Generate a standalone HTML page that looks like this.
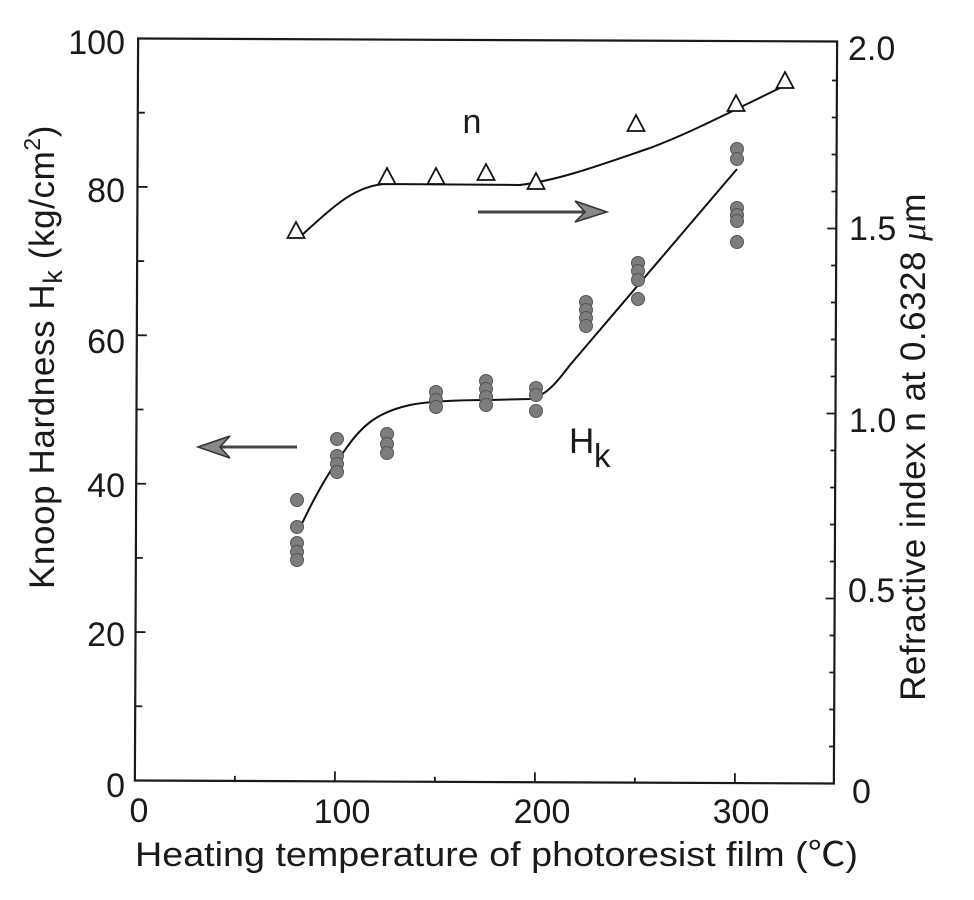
<!DOCTYPE html>
<html><head><meta charset="utf-8"><style>
html,body{margin:0;padding:0;background:#fff;}
svg{display:block;}
text{font-family:"Liberation Sans","Noto Sans CJK JP",sans-serif;fill:#1a1a1a;}
</style></head><body>
<svg width="974" height="900" viewBox="0 0 974 900" xmlns="http://www.w3.org/2000/svg">
<g transform="rotate(0.25 486 410)" stroke="#1a1a1a" fill="none">
  <rect x="136.5" y="40" width="699" height="742" stroke-width="2.2"/>
  <g stroke-width="1.8">
  <path d="M136.5,707.8h7 M136.5,633.6h10 M136.5,559.4h7 M136.5,485.2h10 M136.5,411h7 M136.5,336.8h10 M136.5,262.6h7 M136.5,188.4h10 M136.5,114.2h7"/>
  <path d="M835.5,745h-5 M835.5,708h-5 M835.5,671h-5 M835.5,634h-5 M835.5,597h-9 M835.5,560h-5 M835.5,523h-5 M835.5,486h-5 M835.5,449h-5 M835.5,412h-9 M835.5,375h-5 M835.5,338h-5 M835.5,301h-5 M835.5,264h-5 M835.5,227h-9 M835.5,190h-5 M835.5,153h-5 M835.5,116h-5 M835.5,79h-5"/>
  <path d="M236.5,782v-5 M336.5,782v-10 M436.5,782v-5 M536.5,782v-10 M636.5,782v-5 M736.5,782v-10"/>
  </g>
</g>

<path d="M299,530 C315,495 330,470 345,450 C362,425 378,412 410,405 C430,401 460,400 490,400 L530,399 C545,396 555,385 570,365 L737,169" stroke="#111" stroke-width="2" fill="none"/>
<path d="M302,235 C335,205 355,186 385,184 L520,185 C560,180 600,165 650,148 C690,133 730,112 782,87" stroke="#111" stroke-width="2" fill="none"/>

<g fill="#fff" stroke="#111" stroke-width="1.8" stroke-linejoin="miter">
  <path d="M287.5,238 L296,222 L304.5,238 Z"/>
  <path d="M378.5,184 L387,168 L395.5,184 Z"/>
  <path d="M427.5,184 L436,168 L444.5,184 Z"/>
  <path d="M477.5,180 L486,164 L494.5,180 Z"/>
  <path d="M527.5,189 L536,173 L544.5,189 Z"/>
  <path d="M627.5,131 L636,115 L644.5,131 Z"/>
  <path d="M727.5,111 L736,95 L744.5,111 Z"/>
  <path d="M776.5,88 L785,72 L793.5,88 Z"/>
</g>

<g fill="#7d7d7d" stroke="#555" stroke-width="1">
  <circle cx="297" cy="500" r="6.5"/><circle cx="297" cy="527" r="6.5"/><circle cx="297" cy="543" r="6.5"/><circle cx="297" cy="552" r="6.5"/><circle cx="297" cy="560" r="6.5"/>
  <circle cx="337" cy="439" r="6.5"/><circle cx="337" cy="456" r="6.5"/><circle cx="337" cy="464" r="6.5"/><circle cx="337" cy="472" r="6.5"/>
  <circle cx="387" cy="434" r="6.5"/><circle cx="387" cy="444" r="6.5"/><circle cx="387" cy="453" r="6.5"/>
  <circle cx="436" cy="392" r="6.5"/><circle cx="436" cy="400" r="6.5"/><circle cx="436" cy="407" r="6.5"/>
  <circle cx="486" cy="381" r="6.5"/><circle cx="486" cy="389" r="6.5"/><circle cx="486" cy="397" r="6.5"/><circle cx="486" cy="405" r="6.5"/>
  <circle cx="536" cy="388" r="6.5"/><circle cx="536" cy="395" r="6.5"/><circle cx="536" cy="411" r="6.5"/>
  <circle cx="586" cy="302" r="6.5"/><circle cx="586" cy="310" r="6.5"/><circle cx="586" cy="318" r="6.5"/><circle cx="586" cy="326" r="6.5"/>
  <circle cx="638" cy="263" r="6.5"/><circle cx="638" cy="271" r="6.5"/><circle cx="638" cy="280" r="6.5"/><circle cx="638" cy="299" r="6.5"/>
  <circle cx="737" cy="149" r="6.5"/><circle cx="737" cy="159" r="6.5"/><circle cx="737" cy="208" r="6.5"/><circle cx="737" cy="215" r="6.5"/><circle cx="737" cy="221" r="6.5"/><circle cx="737" cy="242" r="6.5"/>
</g>

<line x1="478" y1="212" x2="585" y2="212" stroke="#444" stroke-width="3"/>
<path d="M607,212 L575,201 L585,212 L575,222 Z" fill="#888" stroke="#333" stroke-width="1.5"/>
<line x1="220" y1="447" x2="297" y2="447" stroke="#444" stroke-width="3"/>
<path d="M198,447 L230,436 L220,447 L230,458 Z" fill="#888" stroke="#333" stroke-width="1.5"/>

<text x="472" y="133" font-size="34" text-anchor="middle">n</text>
<text x="569" y="453" font-size="35">H</text>
<text x="594" y="467" font-size="33">k</text>

<g font-size="34" text-anchor="end">
  <text x="125" y="54">100</text>
  <text x="125" y="202">80</text>
  <text x="125" y="353">60</text>
  <text x="125" y="497">40</text>
  <text x="125" y="646">20</text>
  <text x="125" y="797">0</text>
</g>
<g font-size="34" text-anchor="start">
  <text x="848" y="60">2.0</text>
  <text x="849" y="240">1.5</text>
  <text x="849" y="432">1.0</text>
  <text x="848" y="602">0.5</text>
  <text x="852" y="803">0</text>
</g>
<g font-size="34" text-anchor="middle">
  <text x="139" y="822">0</text>
  <text x="342" y="823">100</text>
  <text x="542" y="823">200</text>
  <text x="741" y="823">300</text>
</g>

<text x="135" y="866" font-size="34" textLength="723" lengthAdjust="spacingAndGlyphs">Heating temperature of photoresist film (℃)</text>

<text transform="translate(54,357) rotate(-90)" font-size="35" letter-spacing="0.6" text-anchor="middle">Knoop Hardness H<tspan font-size="27" dy="8">k</tspan><tspan dy="-8"> (kg/cm</tspan><tspan font-size="23" dy="-14">2</tspan><tspan dy="14">)</tspan></text>

<text transform="translate(925,447) rotate(-90)" font-size="35" letter-spacing="0.5" text-anchor="middle">Refractive index n at 0.6328 <tspan font-family="Liberation Serif, serif" font-style="italic">μ</tspan>m</text>
</svg>
</body></html>
